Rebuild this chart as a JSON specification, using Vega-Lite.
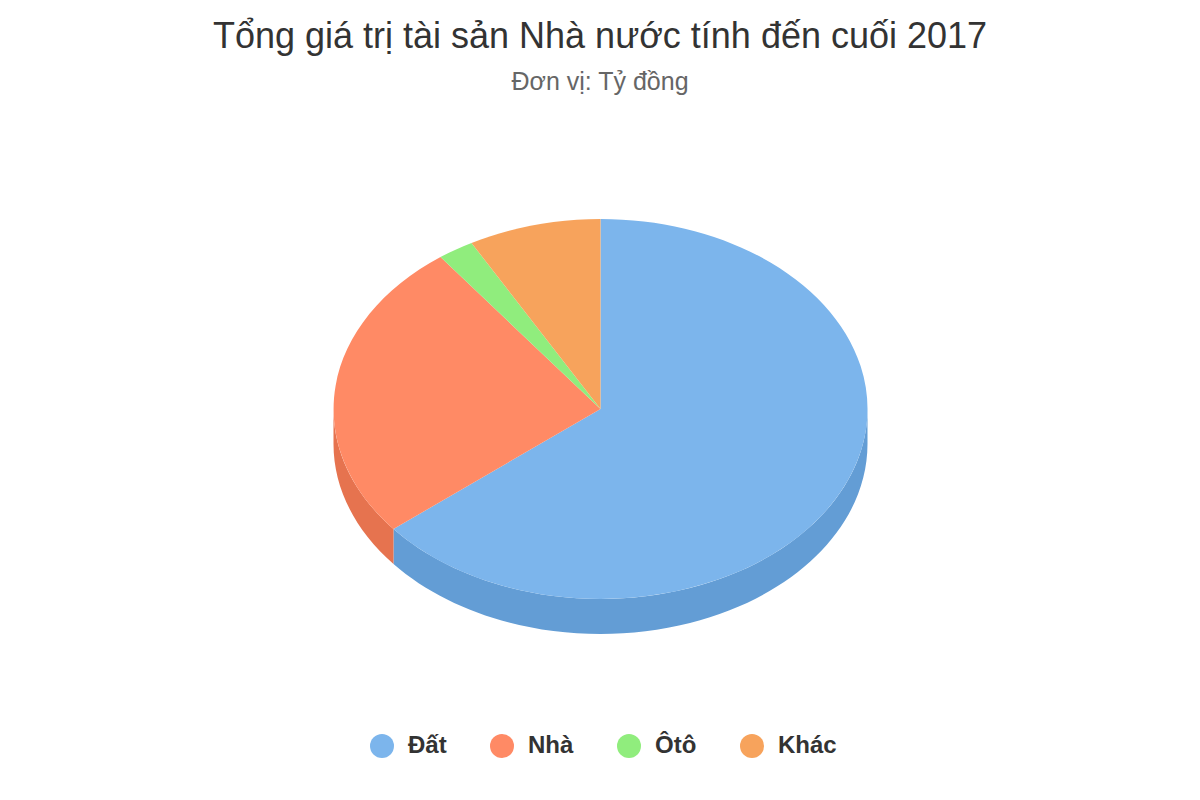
{
  "$schema": "https://vega.github.io/schema/vega-lite/v6.json",
  "width": 1200,
  "height": 800,
  "padding": {"top": 19, "left": 0, "right": 0, "bottom": 0},
  "autosize": {"type": "fit", "contains": "padding"},
  "background": "#ffffff",
  "title": {
    "text": "Tổng giá trị tài sản Nhà nước tính đến cuối 2017",
    "subtitle": "Đơn vị: Tỷ đồng",
    "anchor": "middle",
    "font": "Liberation Sans",
    "fontSize": 36,
    "fontWeight": "normal",
    "color": "#333333",
    "subtitleFont": "Liberation Sans",
    "subtitleFontSize": 25,
    "subtitleColor": "#666666",
    "subtitlePadding": 14,
    "offset": 0
  },
  "config": {"view": {"stroke": null}},
  "data": {
    "values": [
      {"loai": "Đất", "ty_trong": 64.2},
      {"loai": "Nhà", "ty_trong": 25.6},
      {"loai": "Ôtô", "ty_trong": 2.2},
      {"loai": "Khác", "ty_trong": 8}
    ]
  },
  "layer": [
    {
      "transform": [{"filter": {"field": "loai", "oneOf": ["Đất", "Nhà"]}}],
      "mark": {"type": "point", "filled": true, "opacity": 1, "size": 4, "xOffset": 0.5, "yOffset": -39},
      "encoding": {
        "shape": {
          "field": "loai",
          "type": "nominal",
          "legend": null,
          "scale": {
            "domain": ["Đất", "Nhà"],
            "range": [
              "M-207 120A267 190 0 0 0 267 0L267 35A267 190 0 0 1 -207 155Z",
              "M-267 0A267 190 0 0 0 -207 120L-207 155A267 190 0 0 1 -267 35Z"
            ]
          }
        },
        "color": {
          "field": "loai",
          "type": "nominal",
          "legend": null,
          "scale": {"domain": ["Đất", "Nhà"], "range": ["#639dd5", "#e6734f"]}
        }
      }
    },
    {
      "mark": {"type": "point", "filled": true, "opacity": 1, "size": 4, "xOffset": 0.5, "yOffset": -39},
      "encoding": {
        "shape": {
          "field": "loai",
          "type": "nominal",
          "legend": null,
          "scale": {
            "domain": ["Đất", "Nhà", "Ôtô", "Khác"],
            "range": [
              "M0 0L0 -190A267 190 0 1 1 -207 120Z",
              "M0 0L-207 120A267 190 0 0 1 -160 -152Z",
              "M0 0L-160 -152A267 190 0 0 1 -129 -166Z",
              "M0 0L-129 -166A267 190 0 0 1 0 -190Z"
            ]
          }
        },
        "color": {
          "field": "loai",
          "type": "nominal",
          "legend": null,
          "scale": {
            "domain": ["Đất", "Nhà", "Ôtô", "Khác"],
            "range": ["#7cb5ec", "#ff8a65", "#90ed7d", "#f7a35c"]
          }
        },
        "tooltip": [
          {"field": "loai", "type": "nominal"},
          {"field": "ty_trong", "type": "quantitative"}
        ]
      }
    },
    {
      "mark": {"type": "point", "filled": true, "size": 0},
      "encoding": {
        "color": {
          "field": "loai",
          "type": "nominal",
          "sort": null,
          "scale": {
            "domain": ["Đất", "Nhà", "Ôtô", "Khác"],
            "range": ["#7cb5ec", "#ff8a65", "#90ed7d", "#f7a35c"]
          },
          "legend": {
            "orient": "none",
            "legendX": 370,
            "legendY": 638,
            "direction": "horizontal",
            "columns": 4,
            "gridAlign": "none",
            "columnPadding": 43,
            "title": null,
            "symbolType": "circle",
            "symbolSize": 576,
            "symbolOpacity": 1,
            "symbolStrokeWidth": 0,
            "labelOffset": 14,
            "labelFont": "Liberation Sans",
            "labelFontSize": 24,
            "labelFontWeight": "bold",
            "labelColor": "#333333"
          }
        }
      }
    }
  ],
  "resolve": {"scale": {"color": "independent", "shape": "independent"}}
}
